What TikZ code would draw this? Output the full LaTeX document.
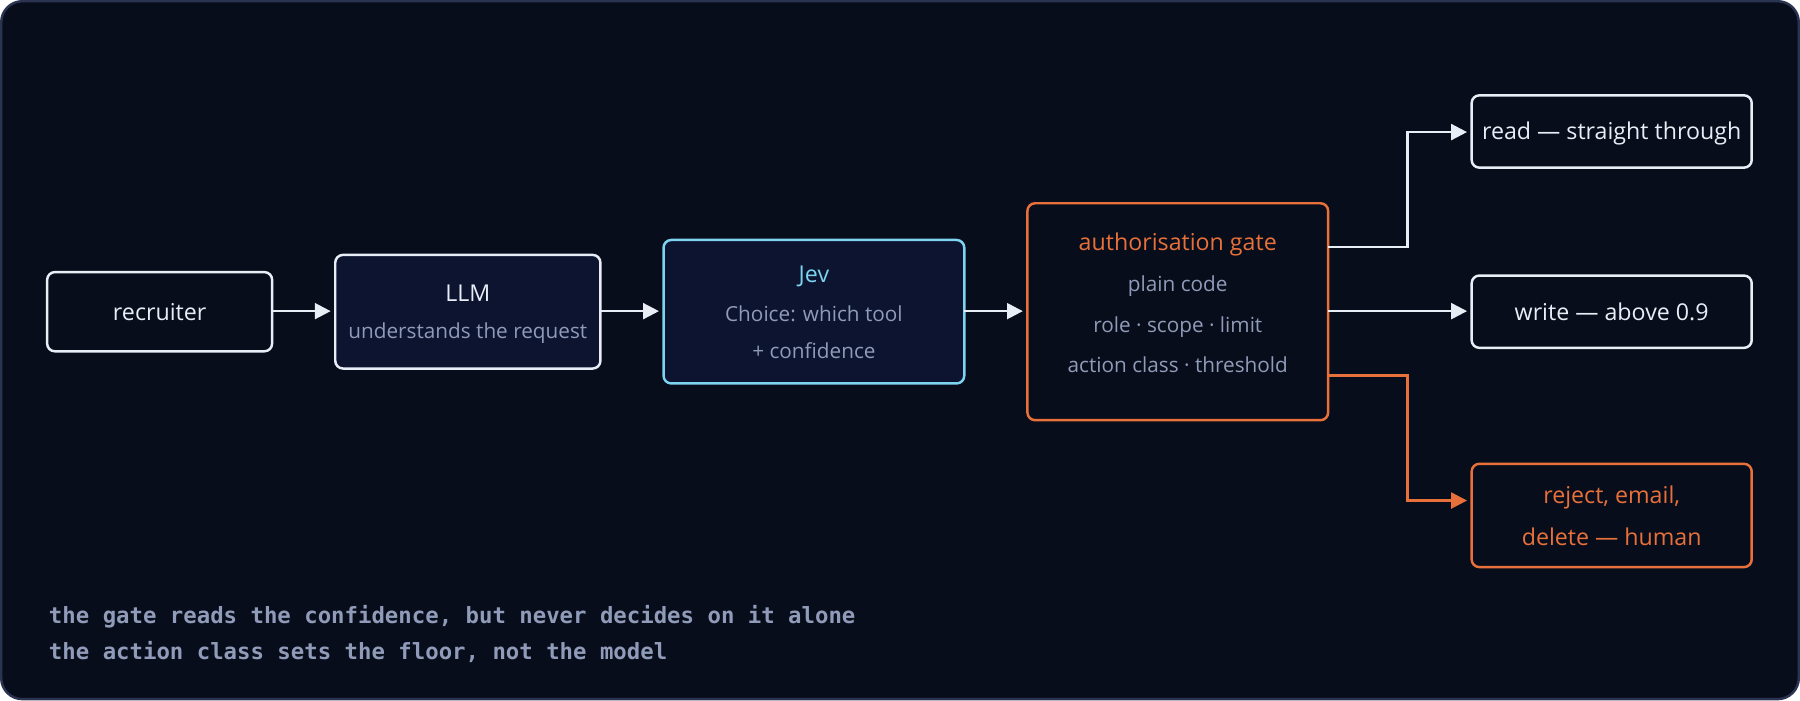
\documentclass[tikz,border=0pt]{standalone}
\usepackage{fontspec}
\setmainfont{Open Sans}
\setmonofont{DejaVu Sans Mono}
\usetikzlibrary{arrows.meta}
\definecolor{bgc}{HTML}{070D1A}
\definecolor{framec}{HTML}{2A3350}
\definecolor{txt}{HTML}{E8EDF6}
\definecolor{sub}{HTML}{8F9BB8}
\definecolor{orng}{HTML}{E8703A}
\definecolor{cyn}{HTML}{7DD3F0}
\definecolor{boxfill}{HTML}{0C1430}
\tikzset{
  box/.style={draw=txt, line width=0.7pt, rounded corners=2.2pt, inner sep=0pt},
  lab/.style={font=\fontsize{6.6}{8}\selectfont, text=txt},
  sublab/.style={font=\fontsize{5.9}{7}\selectfont, text=sub},
  note/.style={anchor=west, inner sep=0pt, font=\ttfamily\bfseries\fontsize{6.35}{7}\selectfont, text=sub},
  arr/.style={-{Triangle[length=4.5pt,width=4.5pt]}, line width=0.7pt, draw=txt}
}
\begin{document}
\begin{tikzpicture}[x=0.01148cm, y=-0.01148cm]
\fill[bgc, rounded corners=6pt, draw=framec, line width=0.7pt] (1,1) rectangle (1567,609);
\useasboundingbox (0,0) rectangle (1568,610);

% boxes
\draw[box] (41,237) rectangle (237,306);
\node[lab] (rec) at (139,271.5) {recruiter};

\draw[box, fill=boxfill] (292,222) rectangle (523,321);
\node[lab] (llm) at (407.5,255) {LLM};
\node[sublab] (llms) at (407.5,290) {understands the request};

\draw[box, fill=boxfill, draw=cyn] (578,209) rectangle (840,334);
\node[lab, text=cyn] (jev) at (709,241) {Jev};
\node[sublab] (jev2) at (709,273) {Choice: which tool};
\node[sublab] (jev3) at (709,305) {+ confidence};

\draw[box, draw=orng] (895,177) rectangle (1157,366);
\node[lab, text=orng] (gate) at (1026,213) {authorisation gate};
\node[sublab] (g2) at (1026,249) {plain code};
\node[sublab] (g3) at (1026,285) {role · scope · limit};
\node[sublab] (g4) at (1026,318) {action class · threshold};

\draw[box] (1282,83) rectangle (1526,146);
\node[lab] (read) at (1404,116) {read — straight through};
\draw[box] (1282,240) rectangle (1526,303);
\node[lab] (write) at (1404,271.5) {write — above 0.9};
\draw[box, draw=orng] (1282,404) rectangle (1526,494);
\node[lab, text=orng, align=center] (rej) at (1404,449) {reject, email,\\[4pt]delete — human};

% connectors
\coordinate (recE) at (237,271);
\coordinate (llmW) at (288,271);
\coordinate (llmE) at (523,271);
\coordinate (jevW) at (574,271);
\coordinate (jevE) at (840,271);
\coordinate (gateW) at (891,271);
\coordinate (gateE1) at (1157,215);
\coordinate (gateE2) at (1157,271);
\coordinate (gateE3) at (1157,327);
\coordinate (readW) at (1278,115);
\coordinate (writeW) at (1278,271);
\coordinate (rejW) at (1278,436);
\draw[arr] (recE) -- (llmW);
\draw[arr] (llmE) -- (jevW);
\draw[arr] (jevE) -- (gateW);
\draw[arr] (gateE1) -| (1226,115) -- (readW);
\draw[arr] (gateE2) -- (writeW);
\draw[arr, draw=orng, -{Triangle[length=4.5pt,width=4.5pt,fill=orng]}] (gateE3) -| (1226,436) -- (rejW);

% footer
\node[note] (n1) at (42,537) {the gate reads the confidence, but never decides on it alone};
\node[note] (n2) at (42,568) {the action class sets the floor, not the model};
\end{tikzpicture}
\end{document}
